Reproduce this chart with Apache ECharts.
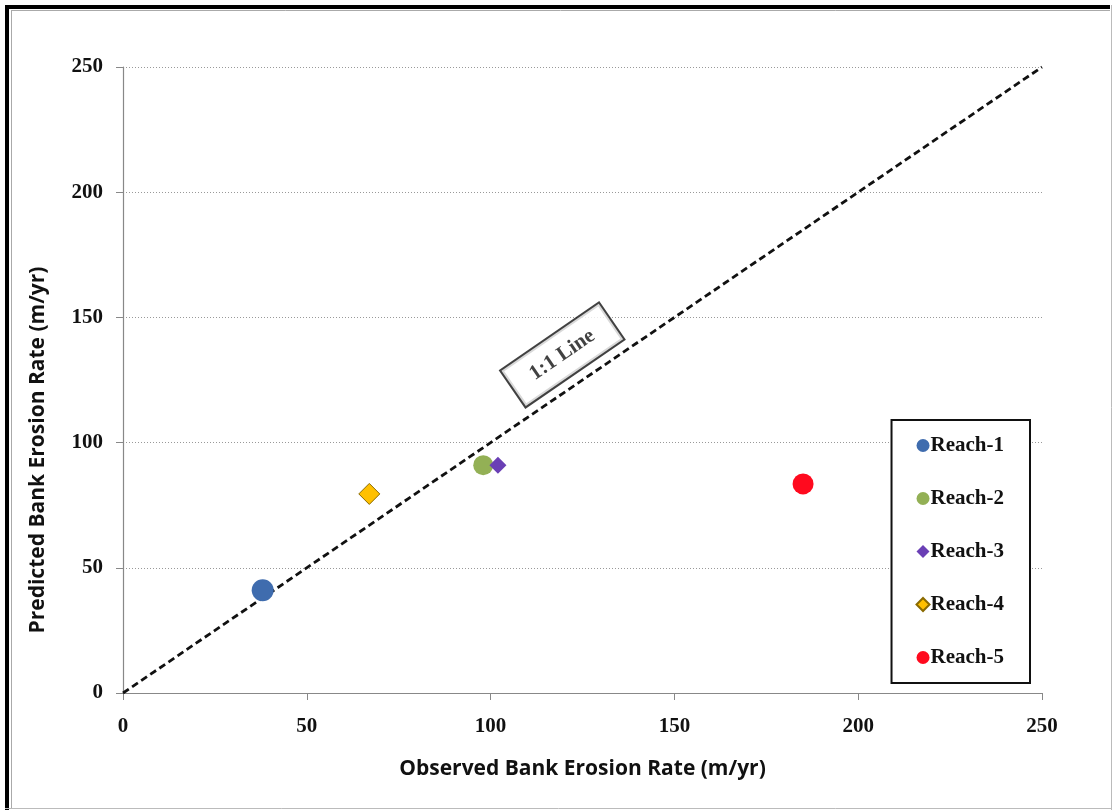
<!DOCTYPE html>
<html>
<head>
<meta charset="utf-8">
<script src="https://cdn.jsdelivr.net/npm/echarts@6/dist/echarts.min.js"></script>
<style>
  html, body { margin: 0; padding: 0; background: #fff; }
  #chart { width: 1113px; height: 812px; }
</style>
</head>
<body>
<div id="chart"></div>
<script>
// Observed vs predicted bank erosion rate per reach (m/yr)
const reachNames = ['Reach-1', 'Reach-2', 'Reach-3', 'Reach-4', 'Reach-5'];
const observed   = [38, 98, 102, 67, 185];
const predicted  = [41, 91, 91, 79.5, 83.5];
const axisTicks  = [0, 50, 100, 150, 200, 250];
const oneToOne   = [[0, 0], [250, 250]];
const lineLabelAt = [119.5, 135];

const colors  = ['#3f6cae', '#93b055', '#6a3fb5', '#ffc000', '#ff0a1e'];
const symbols = ['circle', 'circle', 'diamond', 'diamond', 'circle'];
const sizes   = [22, 20, 17, 21, 21];

const serif = '"Liberation Serif", "Times New Roman", serif';
const sans  = '"Open Sans", "Noto Sans", sans-serif';

const chart = echarts.init(document.getElementById('chart'));

const pointSeries = reachNames.map((name, i) => ({
  name: name,
  type: 'scatter',
  symbol: symbols[i],
  symbolSize: sizes[i],
  itemStyle: {
    color: colors[i],
    borderColor: i === 3 ? '#8a6a00' : colors[i],
    borderWidth: i === 3 ? 1 : 0,
    opacity: 1
  },
  z: 5,
  data: [[observed[i], predicted[i]]]
}));

chart.setOption({
  animation: false,
  backgroundColor: '#ffffff',
  grid: { left: 123, right: 71, top: 67, bottom: 119 },
  xAxis: {
    type: 'value',
    min: 0, max: 250, interval: 50,
    name: 'Observed Bank Erosion Rate (m/yr)',
    nameLocation: 'middle',
    nameGap: 66,
    nameTextStyle: { fontFamily: sans, fontWeight: 'bold', fontSize: 21, color: '#111' },
    axisLine: { show: true, onZero: false, lineStyle: { color: '#888', width: 1.2 } },
    axisTick: { show: true, inside: false, length: 7, lineStyle: { color: '#888' } },
    axisLabel: {
      fontFamily: serif, fontWeight: 'bold', fontSize: 21, color: '#111', margin: 23,
      formatter: v => axisTicks.includes(v) ? String(v) : ''
    },
    splitLine: { show: false }
  },
  yAxis: {
    type: 'value',
    min: 0, max: 250, interval: 50,
    axisLine: { show: true, onZero: false, lineStyle: { color: '#888', width: 1.2 } },
    axisTick: { show: true, length: 7, lineStyle: { color: '#888' } },
    axisLabel: {
      fontFamily: serif, fontWeight: 'bold', fontSize: 21, color: '#111', margin: 20,
      formatter: v => axisTicks.includes(v) ? String(v) : ''
    },
    splitLine: { show: true, lineStyle: { color: '#999', type: [1, 2], width: 1 } }
  },
  legend: {
    orient: 'vertical',
    right: 83,
    top: 420,
    padding: [15, 26, 15, 24],
    itemGap: 32,
    itemWidth: 13,
    itemHeight: 13,
    borderColor: '#111',
    borderWidth: 2,
    backgroundColor: '#ffffff',
    textStyle: { fontFamily: serif, fontWeight: 'bold', fontSize: 21, color: '#111', padding: [0, 0, 0, -4] },
    data: reachNames.map((n, i) => ({ name: n, icon: symbols[i] }))
  },
  series: [
    {
      name: '1:1 Line',
      type: 'line',
      data: oneToOne,
      symbol: 'none',
      lineStyle: { color: '#111', width: 2.8, type: [7, 4] },
      z: 3,
      silent: true
    },
    {
      name: 'lineLabel',
      type: 'scatter',
      data: [lineLabelAt],
      symbolSize: 0,
      z: 6,
      silent: true,
      label: {
        show: true,
        position: 'inside',
        formatter: '1:1 Line',
        rotate: 34.5,
        fontFamily: serif,
        fontWeight: 'bold',
        fontSize: 21,
        color: '#111',
        backgroundColor: '#ffffff',
        borderColor: '#111',
        borderWidth: 2,
        padding: [12, 22, 10, 22]
      }
    }
  ].concat(pointSeries),
  graphic: [
    // vertical axis title
    {
      type: 'text',
      x: 38, y: 450,
      rotation: Math.PI / 2,
      style: {
        text: 'Predicted Bank Erosion Rate (m/yr)',
        fontFamily: sans, fontWeight: 'bold', fontSize: 21, fill: '#111',
        textAlign: 'center', textVerticalAlign: 'middle'
      },
      silent: true
    },
    // frame: heavy black on top/left, thin gray on right/bottom
    { type: 'rect', shape: { x: 5, y: 5, width: 1105, height: 4 }, style: { fill: '#000' }, silent: true },
    { type: 'rect', shape: { x: 5, y: 5, width: 4, height: 805 }, style: { fill: '#000' }, silent: true },
    { type: 'line', shape: { x1: 11, y1: 10.5, x2: 1110, y2: 10.5 }, style: { stroke: '#aaa', lineWidth: 1 }, silent: true },
    { type: 'line', shape: { x1: 11.5, y1: 10, x2: 11.5, y2: 808 }, style: { stroke: '#aaa', lineWidth: 1 }, silent: true },
    { type: 'line', shape: { x1: 1111.5, y1: 5, x2: 1111.5, y2: 810 }, style: { stroke: '#bbb', lineWidth: 1 }, silent: true },
    { type: 'line', shape: { x1: 5, y1: 808.5, x2: 1112, y2: 808.5 }, style: { stroke: '#bbb', lineWidth: 1 }, silent: true }
  ]
});
</script>
</body>
</html>
